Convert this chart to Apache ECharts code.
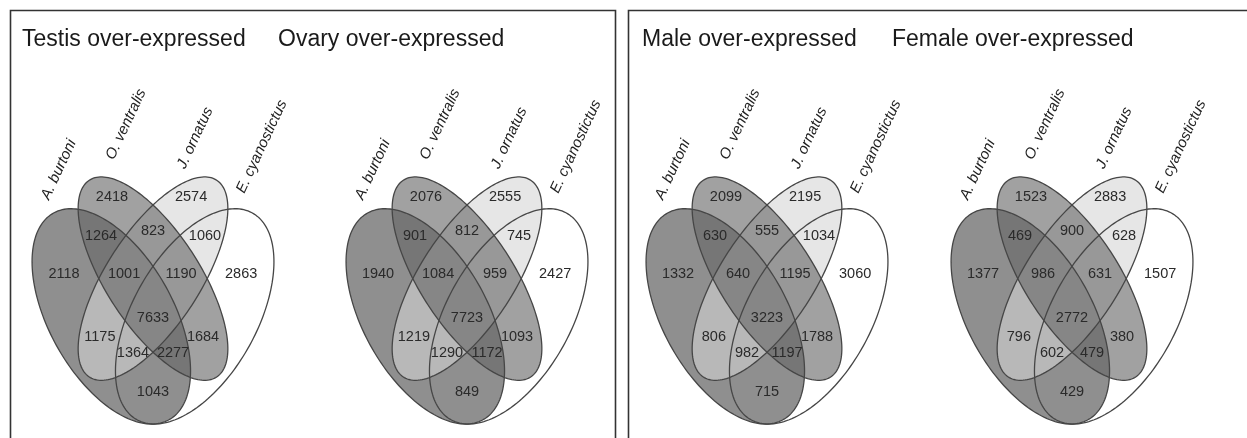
<!DOCTYPE html>
<html><head><meta charset="utf-8">
<script src="https://cdn.jsdelivr.net/npm/echarts@6/dist/echarts.min.js"></script>
<style>html,body{margin:0;padding:0;background:#fff}#c{width:1247px;height:438px}</style>
</head><body><div id="c"></div>
<script>
// ---------- DATA ----------
const panelTitles = ['Testis over-expressed', 'Ovary over-expressed', 'Male over-expressed', 'Female over-expressed'];
const speciesNames = ['A. burtoni', 'O. ventralis', 'J. ornatus', 'E. cyanostictus'];
// region order: A, O, J, E, A&O, O&J, J&E, A&O&J, O&J&E, A&O&J&E, A&J, O&E, A&J&E, A&O&E, A&E
const regionSets = ['A', 'O', 'J', 'E', 'A&O', 'O&J', 'J&E', 'A&O&J', 'O&J&E', 'A&O&J&E', 'A&J', 'O&E', 'A&J&E', 'A&O&E', 'A&E'];
const testisCounts = [2118, 2418, 2574, 2863, 1264, 823, 1060, 1001, 1190, 7633, 1175, 1684, 1364, 2277, 1043];
const ovaryCounts  = [1940, 2076, 2555, 2427, 901, 812, 745, 1084, 959, 7723, 1219, 1093, 1290, 1172, 849];
const maleCounts   = [1332, 2099, 2195, 3060, 630, 555, 1034, 640, 1195, 3223, 806, 1788, 982, 1197, 715];
const femaleCounts = [1377, 1523, 2883, 1507, 469, 900, 628, 986, 631, 2772, 796, 380, 602, 479, 429];
const panelCounts = [testisCounts, ovaryCounts, maleCounts, femaleCounts];

// ---------- LAYOUT (unit square of each Venn panel) ----------
const ellipses = [ // A, O, J, E
  {cx: 0.35, cy: 0.47, a: 0.35, b: 0.20, rot: -45},
  {cx: 0.50, cy: 0.57, a: 0.35, b: 0.15, rot: -45},
  {cx: 0.50, cy: 0.57, a: 0.35, b: 0.15, rot: 45},
  {cx: 0.65, cy: 0.47, a: 0.35, b: 0.20, rot: 45}
];
const fillOrder = [0, 2, 1, 3];
const ellipseFills = ['rgba(143,143,143,1)', 'rgba(104,104,104,0.62)', 'rgba(213,213,213,0.59)', 'rgba(255,255,255,0)'];
const regionPos = [
  [0.180, 0.582], [0.3525, 0.786], [0.637, 0.786], [0.817, 0.582],
  [0.313, 0.683], [0.500, 0.695], [0.687, 0.683],
  [0.396, 0.582], [0.601, 0.582], [0.500, 0.466],
  [0.309, 0.415], [0.680, 0.415], [0.428, 0.373], [0.572, 0.373], [0.500, 0.270]
];
const speciesPos = [[0.137, 0.773], [0.370, 0.879], [0.626, 0.855], [0.839, 0.790]];
const panelCenters = [153, 467, 767, 1072];
const titleX = [22, 278, 642, 892];
const yMin = 0.15;
const gridW = 278, unitH = 377.7, gridTop = 116.2;
const FONT = '"Liberation Sans", Arial, Helvetica, sans-serif';

function ellipsePoints(api, e) {
  const pts = [];
  const th = e.rot * Math.PI / 180;
  const N = 180;
  for (let k = 0; k < N; k++) {
    const t = k / N * 2 * Math.PI;
    const x = e.cx + e.a * Math.cos(t) * Math.cos(th) - e.b * Math.sin(t) * Math.sin(th);
    const y = e.cy + e.a * Math.cos(t) * Math.sin(th) + e.b * Math.sin(t) * Math.cos(th);
    pts.push(api.coord([x, y]));
  }
  return pts;
}

const grids = [], xAxes = [], yAxes = [], series = [];
panelCenters.forEach((c, i) => {
  grids.push({left: c - gridW / 2, top: gridTop, width: gridW, height: unitH * (1 - yMin), containLabel: false});
  xAxes.push({type: 'value', gridIndex: i, min: 0, max: 1, show: false});
  yAxes.push({type: 'value', gridIndex: i, min: yMin, max: 1, show: false});
  // fills
  series.push({
    type: 'custom', xAxisIndex: i, yAxisIndex: i, silent: true, z: 1, clip: false,
    data: fillOrder.map(k => [ellipses[k].cx, ellipses[k].cy, k]),
    renderItem: (params, api) => {
      const k = api.value(2);
      return {type: 'polygon', shape: {points: ellipsePoints(api, ellipses[k])},
        style: {fill: ellipseFills[k], stroke: null}};
    }
  });
  // outlines
  series.push({
    type: 'custom', xAxisIndex: i, yAxisIndex: i, silent: true, z: 2, clip: false,
    data: [0, 1, 2, 3].map(k => [ellipses[k].cx, ellipses[k].cy, k]),
    renderItem: (params, api) => {
      const k = api.value(2);
      return {type: 'polygon', shape: {points: ellipsePoints(api, ellipses[k])},
        style: {fill: 'none', stroke: '#464646', lineWidth: 1.3}};
    }
  });
  // region counts
  series.push({
    type: 'custom', xAxisIndex: i, yAxisIndex: i, silent: true, z: 3, clip: false,
    data: panelCounts[i].map((v, r) => [regionPos[r][0], regionPos[r][1], v]),
    renderItem: (params, api) => {
      const p = api.coord([api.value(0), api.value(1)]);
      return {type: 'text', x: p[0], y: p[1],
        style: {text: String(api.value(2)), align: 'center', verticalAlign: 'middle',
          fontSize: 14.5, fontFamily: FONT, fill: '#2a2a2a'}};
    }
  });
  // species names
  series.push({
    type: 'custom', xAxisIndex: i, yAxisIndex: i, silent: true, z: 3, clip: false,
    data: speciesNames.map((n, s) => [speciesPos[s][0], speciesPos[s][1], s]),
    renderItem: (params, api) => {
      const p = api.coord([api.value(0), api.value(1)]);
      return {type: 'text', x: p[0], y: p[1], rotation: 65 * Math.PI / 180,
        style: {text: speciesNames[api.value(2)], align: 'left', verticalAlign: 'bottom',
          fontSize: 15, fontStyle: 'italic', fontFamily: FONT, fill: '#222'}};
    }
  });
});

const graphic = [
  {type: 'rect', shape: {x: 10.5, y: 10.5, width: 605, height: 450}, style: {fill: 'none', stroke: '#333', lineWidth: 1.6}},
  {type: 'rect', shape: {x: 628.5, y: 10.5, width: 700, height: 450}, style: {fill: 'none', stroke: '#333', lineWidth: 1.6}}
];
panelTitles.forEach((t, i) => {
  graphic.push({type: 'text', x: titleX[i], y: 40,
    style: {text: t, fontSize: 23, fontFamily: FONT, fill: '#1a1a1a', align: 'left', verticalAlign: 'middle'}});
});

const chart = echarts.init(document.getElementById('c'), null, {renderer: 'canvas'});
chart.setOption({
  animation: false,
  backgroundColor: '#fff',
  grid: grids, xAxis: xAxes, yAxis: yAxes,
  series: series,
  graphic: graphic
});
</script></body></html>
